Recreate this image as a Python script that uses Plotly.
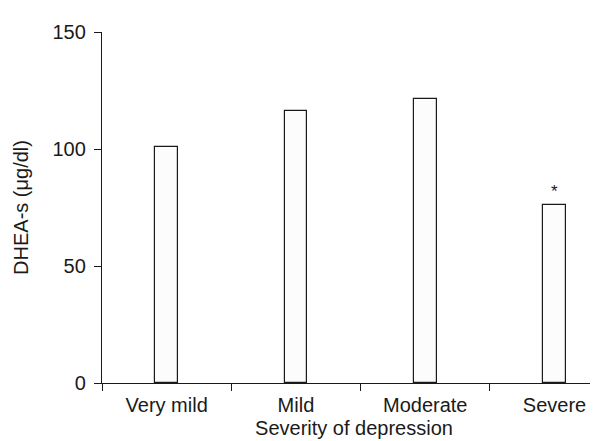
import plotly.graph_objects as go

categories = ["Very mild", "Mild", "Moderate", "Severe"]
dhea_values = [100.8, 116.3, 121.3, 76.1]
significance = ["", "", "", "*"]
y_ticks = [0, 50, 100, 150]

FONT = "Liberation Sans, Arial, sans-serif"
INK = "#1a1a1a"

fig = go.Figure()
fig.add_trace(go.Bar(
    x=categories, y=dhea_values, width=0.175,
    marker=dict(color="#fcfcfc", line=dict(color=INK, width=1.2)),
    showlegend=False,
))

for c, v, s in zip(categories, dhea_values, significance):
    if s:
        fig.add_annotation(x=c, y=v, text=s, showarrow=False, yanchor="bottom",
                           yshift=2, font=dict(family=FONT, size=17, color=INK))

fig.update_layout(
    width=598, height=441,
    margin=dict(l=94, r=0, t=24, b=66, pad=0),
    paper_bgcolor="white", plot_bgcolor="white",
    font=dict(family=FONT, size=20, color=INK),
    bargap=0,
)
fig.update_xaxes(
    type="category", range=[-0.5, 3.398], automargin=False,
    showline=True, linecolor=INK, linewidth=1.3,
    ticks="outside", ticklen=7, tickwidth=1.3, tickcolor=INK,
    tickson="boundaries", showgrid=False, zeroline=False,
    tickfont=dict(size=20), ticklabelstandoff=4,
    title=dict(text="Severity of depression", font=dict(size=20), standoff=5),
)
fig.update_yaxes(
    range=[0, 150], tickvals=y_ticks, automargin=False,
    showline=True, linecolor=INK, linewidth=1.3,
    ticks="outside", ticklen=7, tickwidth=1.3, tickcolor=INK,
    showgrid=False, zeroline=False,
    tickfont=dict(size=20), ticklabelstandoff=4,
    title=dict(text="DHEA-s (μg/dl)", font=dict(size=20), standoff=18),
)

fig.write_html("out.html")
